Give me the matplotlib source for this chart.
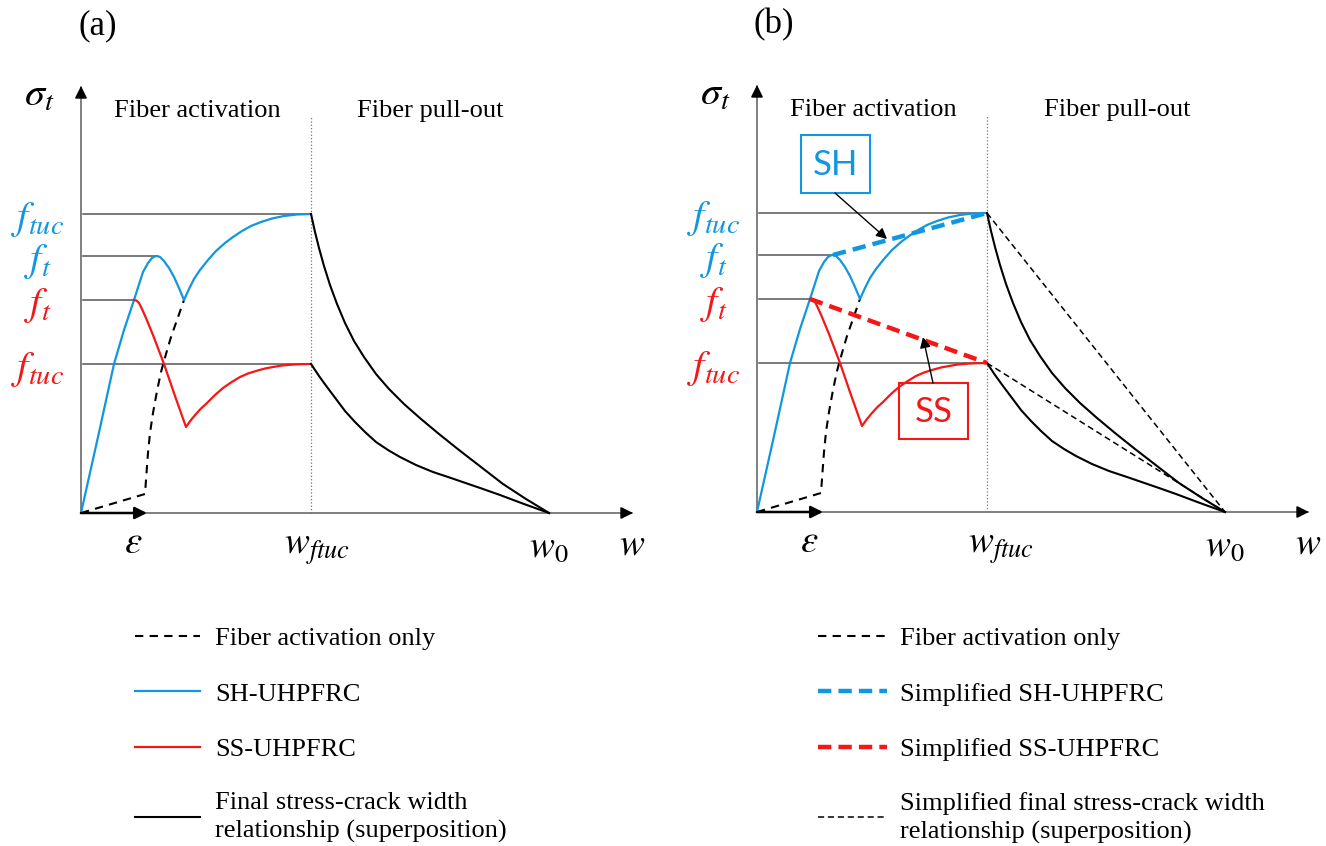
import matplotlib.pyplot as plt
from matplotlib.patches import Rectangle

plt.rcParams['font.family'] = ['Liberation Serif', 'DejaVu Serif']
plt.rcParams['mathtext.fontset'] = 'stix'

BLUE = '#1196e0'
RED = '#f51616'
AXIS = '#6a6a6a'
LEVEL = '#555555'

# schematic units, origin at the axis corner
w_eps = 0.66
w_ftuc = 2.30
w_0 = 4.68
w_end = 5.51
s_top = 4.26

# stress levels marked on the vertical axis
level_s = [2.99, 2.57, 2.13, 1.49]
level_w = [2.30, 0.76, 0.53, 2.30]
level_txt = [r'$f_{tuc}$', r'$f_{t}$', r'$f_{t}$', r'$f_{tuc}$']
level_col = [BLUE, BLUE, RED, RED]

# strain hardening curve (fiber activation part)
sh_w = [0.0, 0.17, 0.33, 0.43, 0.53, 0.62, 0.67, 0.71, 0.74, 0.76, 0.79, 0.83, 0.88, 0.93,
        0.98, 1.03, 1.08, 1.13, 1.19, 1.27, 1.35, 1.44, 1.52, 1.61, 1.70, 1.80, 1.91,
        2.03, 2.16, 2.30]
sh_s = [0.0, 0.76, 1.49, 1.83, 2.13, 2.41, 2.50, 2.55, 2.567, 2.57, 2.56, 2.52, 2.45, 2.36,
        2.25, 2.13, 2.24, 2.34, 2.43, 2.53, 2.62, 2.70, 2.76, 2.82, 2.87, 2.91, 2.945,
        2.97, 2.985, 2.99]

# strain softening curve (starts at its own peak on the SH branch)
ss_w = [0.53, 0.555, 0.58, 0.61, 0.65, 0.72, 0.83, 0.94, 1.05, 1.10, 1.15, 1.20, 1.26,
        1.34, 1.42, 1.50, 1.59, 1.67, 1.75, 1.84, 1.92, 2.01, 2.10, 2.20, 2.30]
ss_s = [2.13, 2.125, 2.10, 2.04, 1.95, 1.78, 1.49, 1.17, 0.86, 0.93, 0.99, 1.045, 1.10,
        1.18, 1.25, 1.305, 1.36, 1.395, 1.42, 1.445, 1.46, 1.475, 1.483, 1.488, 1.49]

# fiber activation only
fa_w = [0.0, 0.64, 0.655, 0.67, 0.69, 0.72, 0.76, 0.80, 0.85, 0.90, 0.96, 1.03]
fa_s = [0.0, 0.19, 0.40, 0.60, 0.80, 1.00, 1.22, 1.41, 1.59, 1.76, 1.93, 2.13]

# fiber pull-out branches
po_sh_w = [2.30, 2.34, 2.38, 2.43, 2.49, 2.56, 2.64, 2.73, 2.83, 2.95, 3.08, 3.23, 3.40,
           3.58, 3.78, 4.00, 4.22, 4.45, 4.68]
po_sh_s = [2.99, 2.81, 2.65, 2.47, 2.28, 2.09, 1.90, 1.72, 1.56, 1.39, 1.24, 1.09, 0.94,
           0.79, 0.63, 0.46, 0.29, 0.14, 0.0]
po_ss_w = [2.30, 2.38, 2.46, 2.55, 2.64, 2.74, 2.84, 2.95, 3.07, 3.19, 3.35, 3.52, 3.70,
           3.86, 4.02, 4.19, 4.43, 4.68]
po_ss_s = [1.49, 1.37, 1.26, 1.14, 1.02, 0.91, 0.81, 0.71, 0.63, 0.56, 0.48, 0.41, 0.35,
           0.295, 0.24, 0.18, 0.09, 0.0]

# simplified (bilinear) relationships
simp_sh_w = [0.76, 2.30]
simp_sh_s = [2.57, 2.99]
simp_ss_w = [0.53, 2.30]
simp_ss_s = [2.13, 1.49]
lin_sh_w = [2.30, 4.68]
lin_sh_s = [2.99, 0.0]
lin_ss_w = [2.30, 4.68]
lin_ss_s = [1.49, 0.0]

W, H = 1326, 846
fig = plt.figure(figsize=(W / 100, H / 100), dpi=100)


def make_axes(px_left, px_width, ox, oy):
    ax = fig.add_axes([px_left / W, 1 - 600 / H, px_width / W, 600 / H])
    ax.set_xlim((px_left - ox) / 100, (px_left + px_width - ox) / 100)
    ax.set_ylim((oy - 600) / 100, oy / 100)
    ax.axis('off')
    return ax


def draw_common(ax, tag, pull_x, wf_dx):
    arr = dict(arrowstyle='-|>', color='black', lw=1.2, mutation_scale=18, shrinkA=0, shrinkB=0)
    ax.plot([0, w_end], [0, 0], color=AXIS, lw=1.2)
    ax.plot([0, 0], [0, s_top], color=AXIS, lw=1.2)
    ax.annotate('', xy=(w_end + 0.01, 0), xytext=(w_end - 0.1, 0), arrowprops=arr)
    ax.annotate('', xy=(0, s_top + 0.01), xytext=(0, s_top - 0.1), arrowprops=arr)
    ax.annotate('', xy=(w_eps, 0), xytext=(0, 0),
                arrowprops=dict(arrowstyle='-|>', color='black', lw=1.8,
                                mutation_scale=18, shrinkA=0, shrinkB=0))
    ax.plot([w_ftuc, w_ftuc], [0, 3.97], color='#777777', lw=0.9, ls=':')

    for s, w, t, c in zip(level_s, level_w, level_txt, level_col):
        ax.plot([0.02, w], [s, s], color=LEVEL, lw=1.1)
        ax.text(-0.43, s - 0.05, t, color=c, fontsize=29, ha='center', va='center')

    ax.text(-0.42, 4.17, r'$\sigma_t$', fontsize=29, ha='center', va='center')
    ax.text(0.52, -0.30, r'$\varepsilon$', fontsize=28, ha='center', va='center')
    ax.text(w_ftuc + wf_dx, -0.37, r'$w_{ftuc}$', fontsize=27, ha='left', va='center')
    ax.text(w_0, -0.35, r'$w_{\mathit{0}}$', fontsize=27, ha='center', va='center')
    ax.text(w_end, -0.32, r'$w$', fontsize=27, ha='center', va='center')
    ax.text(1.16, 4.02, 'Fiber activation', fontsize=19, ha='center', va='center')
    ax.text(pull_x, 4.02, 'Fiber pull-out', fontsize=19, ha='center', va='center')
    ax.text(0.17, 4.87, tag, fontsize=25, ha='center', va='center')

    h_fa, = ax.plot(fa_w, fa_s, color='black', lw=1.5, ls=(0, (4, 3)))
    h_sh, = ax.plot(sh_w, sh_s, color=BLUE, lw=1.6)
    h_ss, = ax.plot(ss_w, ss_s, color=RED, lw=1.6)
    h_po, = ax.plot(po_sh_w, po_sh_s, color='black', lw=1.5)
    ax.plot(po_ss_w, po_ss_s, color='black', lw=1.5)
    return h_fa, h_sh, h_ss, h_po


leg_kw = dict(loc='upper left', bbox_transform=fig.transFigure, frameon=False,
              fontsize=19, borderpad=0, borderaxespad=0, labelspacing=1.2)

# (a)
ax_a = make_axes(0, 660, 81, 513)
h_fa, h_sh, h_ss, h_po = draw_common(ax_a, '(a)', 3.49, -0.27)
leg_a = ax_a.legend([h_fa, h_sh, h_ss, h_po],
                    ['Fiber activation only', 'SH-UHPFRC', 'SS-UHPFRC',
                     'Final stress-crack width\nrelationship (superposition)'],
                    bbox_to_anchor=(135 / W, 1 - 627 / H), handlelength=2.45,
                    handletextpad=0.6, **leg_kw)

# (b)
ax_b = make_axes(663, 663, 757, 512)
h_fa, h_sh, h_ss, h_po = draw_common(ax_b, '(b)', 3.60, -0.19)
h_ssh, = ax_b.plot(simp_sh_w, simp_sh_s, color=BLUE, lw=3.2, ls=(0, (3, 1.6)))
h_sss, = ax_b.plot(simp_ss_w, simp_ss_s, color=RED, lw=3.2, ls=(0, (3, 1.6)))
h_lin, = ax_b.plot(lin_sh_w, lin_sh_s, color='black', lw=1.1, ls=(0, (4, 2.5)))
ax_b.plot(lin_ss_w, lin_ss_s, color='black', lw=1.1, ls=(0, (4, 2.5)))

ax_b.add_patch(Rectangle((0.44, 3.19), 0.69, 0.58, fill=False, ec=BLUE, lw=1.5))
ax_b.text(0.785, 3.47, 'SH', color=BLUE, fontsize=25, family='Lato', ha='center', va='center')
ax_b.annotate('', xy=(1.30, 2.73), xytext=(0.78, 3.19),
              arrowprops=dict(arrowstyle='-|>', color='black', lw=1.0, mutation_scale=16,
                              shrinkA=0, shrinkB=0))
ax_b.add_patch(Rectangle((1.42, 0.73), 0.69, 0.56, fill=False, ec=RED, lw=1.5))
ax_b.text(1.765, 1.0, 'SS', color=RED, fontsize=25, family='Lato', ha='center', va='center')
ax_b.annotate('', xy=(1.66, 1.75), xytext=(1.76, 1.29),
              arrowprops=dict(arrowstyle='-|>', color='black', lw=1.0, mutation_scale=16,
                              shrinkA=0, shrinkB=0))

leg_b = ax_b.legend([h_fa, h_ssh, h_sss, h_lin],
                    ['Fiber activation only', 'Simplified SH-UHPFRC', 'Simplified SS-UHPFRC',
                     'Simplified final stress-crack width\nrelationship (superposition)'],
                    bbox_to_anchor=(818 / W, 1 - 627 / H), handlelength=2.6,
                    handletextpad=0.5, **leg_kw)

for leg in (leg_a, leg_b):
    for t in leg.get_texts():
        t.set_linespacing(1.3)

fig.savefig('out.png', dpi=100)
